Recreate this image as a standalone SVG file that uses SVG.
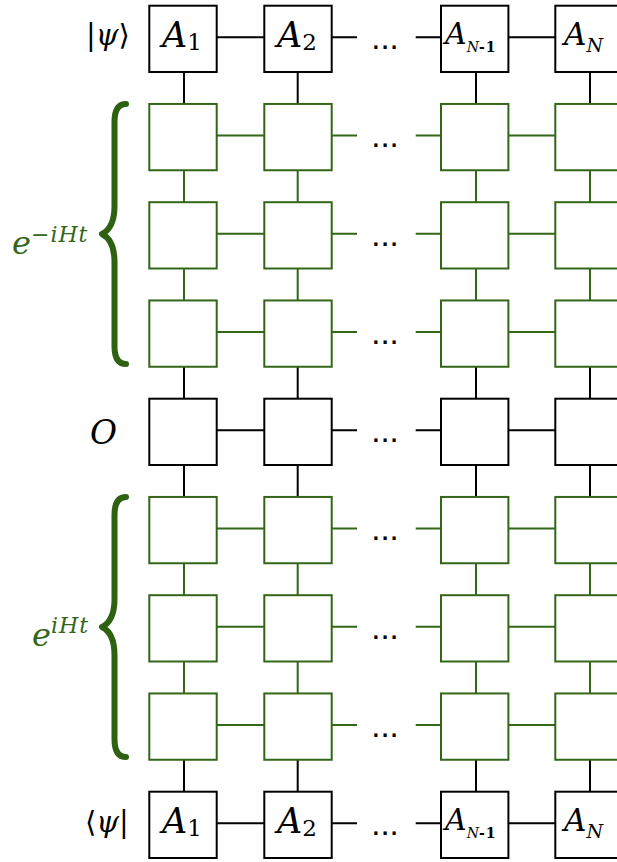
<svg xmlns="http://www.w3.org/2000/svg" width="617" height="862" viewBox="0 0 617 862">
<style>
.bb{fill:#fff;stroke:#000;stroke-width:2}
.gb{fill:#fff;stroke:#336619;stroke-width:2}
.cb{stroke:#000;stroke-width:2;fill:none}
.cg{stroke:#336619;stroke-width:2;fill:none}
.dots{font-family:'Liberation Sans',Arial,sans-serif;font-size:33px;text-anchor:middle;fill:#000}
.brace{stroke:#2e6112;stroke-width:6;fill:none;stroke-linecap:round;stroke-linejoin:round}
.mt{font-family:'DejaVu Serif',serif}
</style>
<rect width="617" height="862" fill="#fff"/>
<g id="connectors">
<g class="cb">
<path d="M216.7 37.3H264.3M331.7 37.3H357M415.7 37.3H441M508.4 37.3H555.3"/>
<path d="M216.7 430.3H264.3M331.7 430.3H357M415.7 430.3H441M508.4 430.3H555.3"/>
<path d="M216.7 823.3H264.3M331.7 823.3H357M415.7 823.3H441M508.4 823.3H555.3"/>
<path d="M184 72V104M297.7 72V104M476 72V104M590 72V104"/>
<path d="M184 366.8V398.7M297.7 366.8V398.7M476 366.8V398.7M590 366.8V398.7"/>
<path d="M184 465V497M297.7 465V497M476 465V497M590 465V497"/>
<path d="M184 759.8V791.7M297.7 759.8V791.7M476 759.8V791.7M590 759.8V791.7"/>
</g>
<g class="cg">
<path d="M216.7 135.55H264.3M331.7 135.55H357M415.7 135.55H441M508.4 135.55H555.3"/>
<path d="M216.7 233.8H264.3M331.7 233.8H357M415.7 233.8H441M508.4 233.8H555.3"/>
<path d="M216.7 332.05H264.3M331.7 332.05H357M415.7 332.05H441M508.4 332.05H555.3"/>
<path d="M216.7 528.55H264.3M331.7 528.55H357M415.7 528.55H441M508.4 528.55H555.3"/>
<path d="M216.7 626.8H264.3M331.7 626.8H357M415.7 626.8H441M508.4 626.8H555.3"/>
<path d="M216.7 725.05H264.3M331.7 725.05H357M415.7 725.05H441M508.4 725.05H555.3"/>
<path d="M184 170.25V202.2M297.7 170.25V202.2M476 170.25V202.2M590 170.25V202.2"/>
<path d="M184 268.5V300.45M297.7 268.5V300.45M476 268.5V300.45M590 268.5V300.45"/>
<path d="M184 563.25V595.2M297.7 563.25V595.2M476 563.25V595.2M590 563.25V595.2"/>
<path d="M184 661.5V693.45M297.7 661.5V693.45M476 661.5V693.45M590 661.5V693.45"/>
</g>
</g>
<g id="dots">
<text class="dots" x="385" y="49">...</text>
<text class="dots" x="385" y="147.25">...</text>
<text class="dots" x="385" y="245.5">...</text>
<text class="dots" x="385" y="343.75">...</text>
<text class="dots" x="385" y="442">...</text>
<text class="dots" x="385" y="540.25">...</text>
<text class="dots" x="385" y="638.5">...</text>
<text class="dots" x="385" y="736.75">...</text>
<text class="dots" x="385" y="835">...</text>
</g>
<g id="row-psi" class="mt">
<g id="psi-A1"><rect class="bb" x="149.3" y="5.7" width="67.4" height="66.3"/><text x="162" y="46.5" font-size="35" font-style="italic">A<tspan font-style="normal" font-size="23" dy="3.5">1</tspan></text></g>
<g id="psi-A2"><rect class="bb" x="264.3" y="5.7" width="67.4" height="66.3"/><text x="277" y="46.5" font-size="35" font-style="italic">A<tspan font-style="normal" font-size="23" dy="3.5">2</tspan></text></g>
<g id="psi-AN1"><rect class="bb" x="441" y="5.7" width="67.4" height="66.3"/><text x="445" y="44" font-size="30" font-style="italic">A<tspan font-size="14" dy="7.5">N</tspan><tspan font-style="normal" font-size="14" font-weight="bold" letter-spacing="1">-1</tspan></text></g>
<g id="psi-AN"><rect class="bb" x="555.3" y="5.7" width="67.4" height="66.3"/><text x="564" y="45" font-size="31" font-style="italic">A<tspan font-size="19" dy="6.5">N</tspan></text></g>
</g>
<g id="row-g1">
<rect class="gb" x="149.3" y="103.95" width="67.4" height="66.3"/><rect class="gb" x="264.3" y="103.95" width="67.4" height="66.3"/><rect class="gb" x="441" y="103.95" width="67.4" height="66.3"/><rect class="gb" x="555.3" y="103.95" width="67.4" height="66.3"/>
</g>
<g id="row-g2">
<rect class="gb" x="149.3" y="202.2" width="67.4" height="66.3"/><rect class="gb" x="264.3" y="202.2" width="67.4" height="66.3"/><rect class="gb" x="441" y="202.2" width="67.4" height="66.3"/><rect class="gb" x="555.3" y="202.2" width="67.4" height="66.3"/>
</g>
<g id="row-g3">
<rect class="gb" x="149.3" y="300.45" width="67.4" height="66.3"/><rect class="gb" x="264.3" y="300.45" width="67.4" height="66.3"/><rect class="gb" x="441" y="300.45" width="67.4" height="66.3"/><rect class="gb" x="555.3" y="300.45" width="67.4" height="66.3"/>
</g>
<g id="row-O">
<rect class="bb" x="149.3" y="398.7" width="67.4" height="66.3"/><rect class="bb" x="264.3" y="398.7" width="67.4" height="66.3"/><rect class="bb" x="441" y="398.7" width="67.4" height="66.3"/><rect class="bb" x="555.3" y="398.7" width="67.4" height="66.3"/>
</g>
<g id="row-g5">
<rect class="gb" x="149.3" y="496.95" width="67.4" height="66.3"/><rect class="gb" x="264.3" y="496.95" width="67.4" height="66.3"/><rect class="gb" x="441" y="496.95" width="67.4" height="66.3"/><rect class="gb" x="555.3" y="496.95" width="67.4" height="66.3"/>
</g>
<g id="row-g6">
<rect class="gb" x="149.3" y="595.2" width="67.4" height="66.3"/><rect class="gb" x="264.3" y="595.2" width="67.4" height="66.3"/><rect class="gb" x="441" y="595.2" width="67.4" height="66.3"/><rect class="gb" x="555.3" y="595.2" width="67.4" height="66.3"/>
</g>
<g id="row-g7">
<rect class="gb" x="149.3" y="693.45" width="67.4" height="66.3"/><rect class="gb" x="264.3" y="693.45" width="67.4" height="66.3"/><rect class="gb" x="441" y="693.45" width="67.4" height="66.3"/><rect class="gb" x="555.3" y="693.45" width="67.4" height="66.3"/>
</g>
<g id="row-bra" class="mt">
<g id="bra-A1"><rect class="bb" x="149.3" y="791.7" width="67.4" height="66.3"/><text x="162" y="832.5" font-size="35" font-style="italic">A<tspan font-style="normal" font-size="23" dy="3.5">1</tspan></text></g>
<g id="bra-A2"><rect class="bb" x="264.3" y="791.7" width="67.4" height="66.3"/><text x="277" y="832.5" font-size="35" font-style="italic">A<tspan font-style="normal" font-size="23" dy="3.5">2</tspan></text></g>
<g id="bra-AN1"><rect class="bb" x="441" y="791.7" width="67.4" height="66.3"/><text x="445" y="830" font-size="30" font-style="italic">A<tspan font-size="14" dy="7.5">N</tspan><tspan font-style="normal" font-size="14" font-weight="bold" letter-spacing="1">-1</tspan></text></g>
<g id="bra-AN"><rect class="bb" x="555.3" y="791.7" width="67.4" height="66.3"/><text x="564" y="831" font-size="31" font-style="italic">A<tspan font-size="19" dy="6.5">N</tspan></text></g>
</g>
<g id="labels" class="mt">
<text x="86" y="45" font-size="29">|<tspan font-style="italic">ψ</tspan>⟩</text>
<text x="90" y="444" font-size="33" font-style="italic">O</text>
<text x="85" y="832" font-size="29">⟨<tspan font-style="italic">ψ</tspan>|</text>
<text x="12" y="254" font-size="32" font-style="italic" fill="#336619">e<tspan font-size="22" dy="-12" letter-spacing="1"><tspan font-style="normal">−</tspan>iHt</tspan></text>
<text x="32" y="646" font-size="32" font-style="italic" fill="#336619">e<tspan font-size="22" dy="-13" letter-spacing="1">iHt</tspan></text>
</g>
<g id="braces">
<path class="brace" d="M126 104C118 104 114.5 110 114.5 122L114.5 206C114.5 222 110 230 102 234C110 238 114.5 246 114.5 262L114.5 346C114.5 358 118 364 126 364"/>
<path class="brace" d="M126 497C118 497 114.5 503 114.5 515L114.5 599C114.5 615 110 623 102 627C110 631 114.5 639 114.5 655L114.5 739C114.5 751 118 757 126 757"/>
</g>
</svg>
